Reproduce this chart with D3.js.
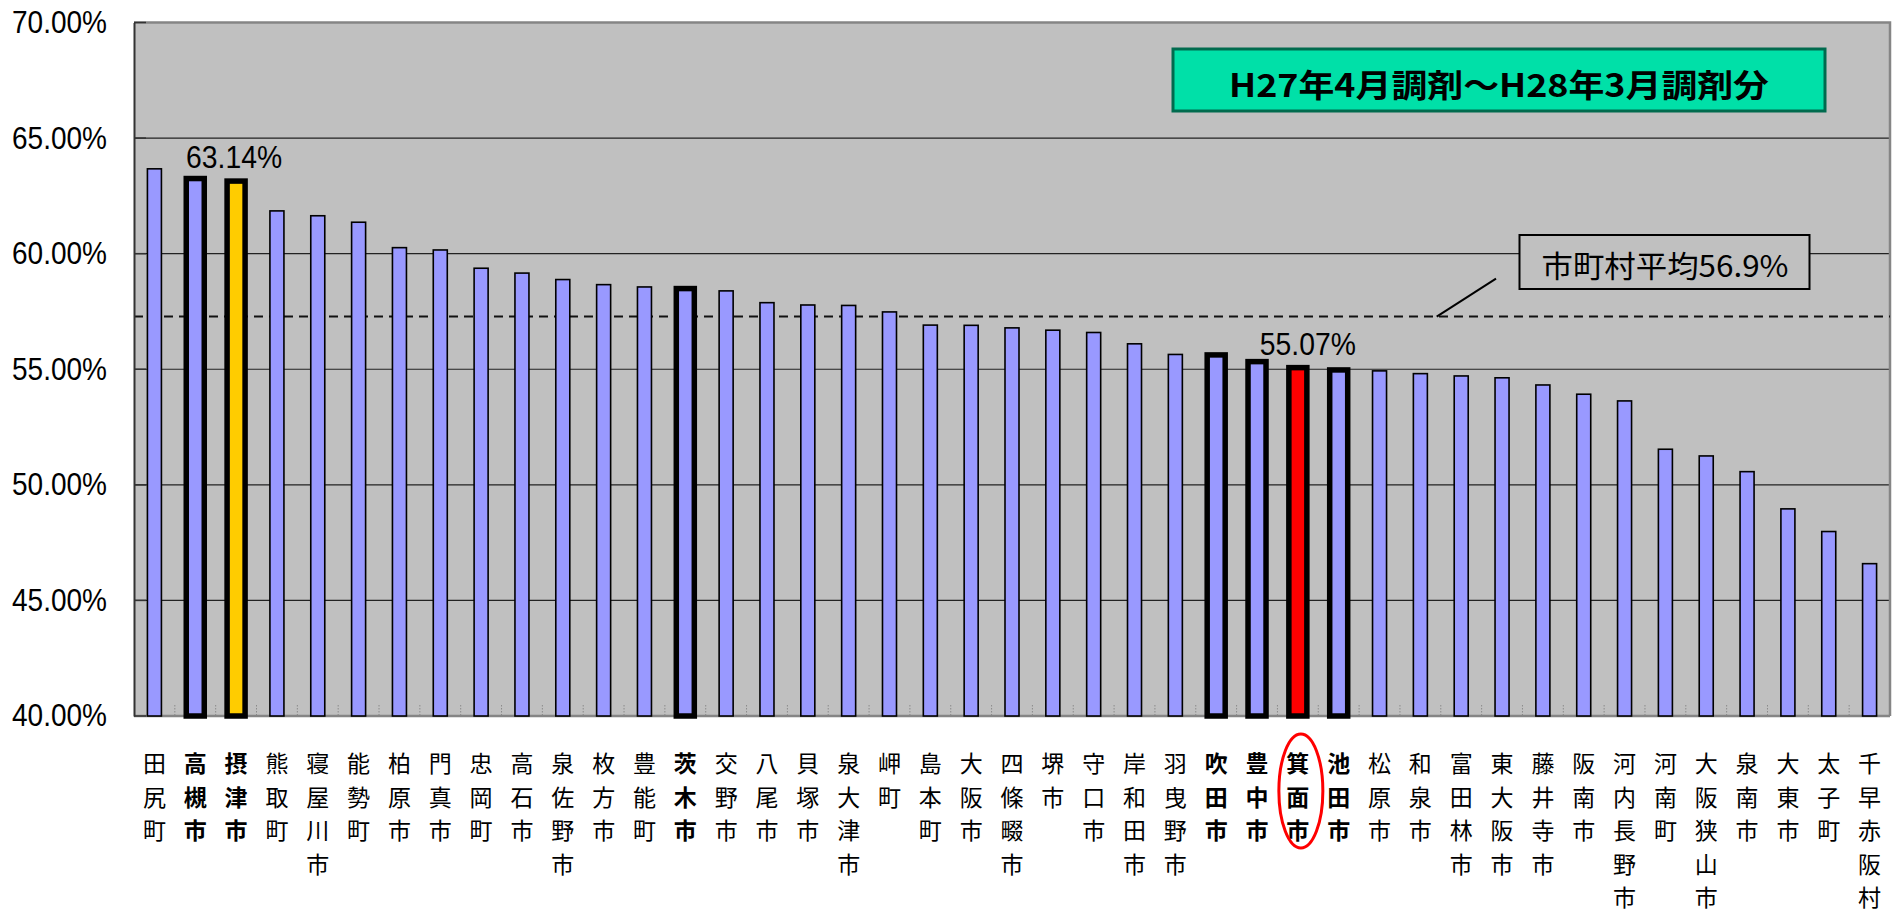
<!DOCTYPE html>
<html>
<head>
<meta charset="utf-8">
<script src="https://cdn.jsdelivr.net/npm/d3@7"></script>
<style>
  html, body { margin: 0; padding: 0; background: #fff; }
  svg { display: block; }
</style>
</head>
<body>
<svg id="chart" width="1903" height="913"></svg>
<script>
// ---------- data ----------
const categories = ["田尻町","高槻市","摂津市","熊取町","寝屋川市","能勢町","柏原市","門真市","忠岡町","高石市",
  "泉佐野市","枚方市","豊能町","茨木市","交野市","八尾市","貝塚市","泉大津市","岬町","島本町",
  "大阪市","四條畷市","堺市","守口市","岸和田市","羽曳野市","吹田市","豊中市","箕面市","池田市",
  "松原市","和泉市","富田林市","東大阪市","藤井寺市","阪南市","河内長野市","河南町","大阪狭山市","泉南市",
  "大東市","太子町","千早赤阪村"];
const values = [63.67,63.25,63.14,61.85,61.64,61.36,60.26,60.16,59.37,59.16,
  58.88,58.66,58.56,58.49,58.39,57.88,57.78,57.76,57.48,56.91,
  56.90,56.79,56.69,56.59,56.10,55.64,55.62,55.33,55.07,54.97,
  54.93,54.81,54.71,54.63,54.32,53.92,53.63,51.54,51.25,50.57,
  48.96,47.98,46.59];
const highlighted = ["高槻市","摂津市","茨木市","吹田市","豊中市","箕面市","池田市"];
const specialFill = {"摂津市": "#FFCC00", "箕面市": "#FF0000"};
const dataLabels = {"摂津市": "63.14%", "箕面市": "55.07%"};
const yTicks = [40,45,50,55,60,65,70];
const yDomain = [40,70];
const averageLine = 57.28;
const averageText = "市町村平均56.9%";
const titleText = "H27年4月調剤～H28年3月調剤分";
const circled = "箕面市";

// ---------- layout ----------
const svg = d3.select("#chart");
const L = 134, R = 1890, T = 22.5, B = 716;
const n = categories.length;
const y = d3.scaleLinear().domain(yDomain).range([B, T]);
const pad = 0.657;
const x = d3.scaleBand().domain(categories).range([L, R]).paddingInner(pad).paddingOuter(pad/2);
const bw = x.bandwidth();
const step = x.step();

// plot background
svg.append("rect").attr("x", L).attr("y", T).attr("width", R - L).attr("height", B - T)
  .attr("fill", "#C0C0C0");

// gridlines
svg.append("g").selectAll("line").data(yTicks.filter(t => t > yDomain[0] && t < yDomain[1])).join("line")
  .attr("x1", L).attr("x2", R).attr("y1", d => y(d)).attr("y2", d => y(d))
  .attr("stroke", "#222").attr("stroke-width", 1.2);

// plot border (top/right gray)
svg.append("path").attr("d", `M${L},${T} H${R} V${B}`).attr("fill", "none")
  .attr("stroke", "#858585").attr("stroke-width", 2.5);

// dotted category ticks
svg.append("g").selectAll("line").data(d3.range(1, n)).join("line")
  .attr("x1", i => L + i * step).attr("x2", i => L + i * step)
  .attr("y1", B - 11).attr("y2", B)
  .attr("stroke", "#8a8a8a").attr("stroke-width", 1).attr("stroke-dasharray", "1.5,1.5");

// bottom axis line
svg.append("line").attr("x1", L).attr("x2", R).attr("y1", B).attr("y2", B)
  .attr("stroke", "#858585").attr("stroke-width", 2.5);

// average dashed line
svg.append("line").attr("x1", L).attr("x2", R).attr("y1", y(averageLine)).attr("y2", y(averageLine))
  .attr("stroke", "#111").attr("stroke-width", 2).attr("stroke-dasharray", "9,6");

// bars
const rows = categories.map((c, i) => ({c, v: values[i], hl: highlighted.includes(c)}));
svg.append("g").selectAll("rect").data(rows).join("rect")
  .attr("x", d => d.hl ? x(d.c) - 2 : x(d.c))
  .attr("width", d => d.hl ? bw + 4 : bw)
  .attr("y", d => y(d.v))
  .attr("height", d => y(yDomain[0]) - y(d.v))
  .attr("fill", d => specialFill[d.c] || "#9999FF")
  .attr("stroke", "#000")
  .attr("stroke-width", d => d.hl ? 5.5 : 1.6);

// left axis
const yAxis = d3.axisLeft(y).tickValues(yTicks).tickSize(0).tickPadding(27)
  .tickFormat(d => d3.format(".2f")(d) + "%");
const ga = svg.append("g").attr("transform", `translate(${L},0)`).call(yAxis);
ga.select(".domain").attr("stroke", "#333").attr("stroke-width", 2);
ga.selectAll("text")
  .attr("font-family", "'Liberation Sans', Arial, sans-serif")
  .attr("font-size", 31).attr("fill", "#000")
  .attr("textLength", 95).attr("lengthAdjust", "spacingAndGlyphs");
// inner tick marks
svg.append("g").selectAll("line").data(yTicks).join("line")
  .attr("x1", L).attr("x2", L + 12).attr("y1", d => y(d)).attr("y2", d => y(d))
  .attr("stroke", "#333").attr("stroke-width", 1.5);

// data labels
svg.append("g").selectAll("text").data(rows.filter(d => dataLabels[d.c])).join("text")
  .attr("x", d => x(d.c) + bw / 2 + (d.c === "箕面市" ? 10 : -2))
  .attr("y", d => y(d.v) - 13)
  .attr("text-anchor", "middle")
  .attr("font-family", "'Liberation Sans', Arial, sans-serif")
  .attr("font-size", 31).attr("fill", "#000")
  .attr("textLength", 96).attr("lengthAdjust", "spacingAndGlyphs")
  .text(d => dataLabels[d.c]);

// x labels (vertical)
const lab = svg.append("g").selectAll("text").data(rows).join("text")
  .attr("font-family", "'Noto Sans CJK JP', sans-serif")
  .attr("font-size", 23)
  .attr("font-weight", d => d.hl ? 700 : 400)
  .attr("fill", "#000")
  .attr("text-anchor", "middle");
lab.each(function(d) {
  const t = d3.select(this);
  Array.from(d.c).forEach((ch, k) => {
    t.append("tspan").attr("x", x(d.c) + bw / 2).attr("y", 762 + k * 33.5)
      .attr("dominant-baseline", "central").text(ch);
  });
});

// red ellipse around circled label
svg.append("ellipse")
  .attr("cx", x(circled) + bw / 2 + 3).attr("cy", 791)
  .attr("rx", 22).attr("ry", 57)
  .attr("fill", "none").attr("stroke", "#FF0000").attr("stroke-width", 3);

// title box
svg.append("rect").attr("x", 1173).attr("y", 49).attr("width", 652).attr("height", 62)
  .attr("fill", "#00E0A8").attr("stroke", "#006B4E").attr("stroke-width", 3);
svg.append("text").attr("x", 1499).attr("y", 83)
  .attr("text-anchor", "middle").attr("dominant-baseline", "central")
  .attr("font-family", "'Noto Sans CJK JP', sans-serif").attr("font-weight", 700)
  .attr("font-size", 32).attr("fill", "#000")
  .attr("textLength", 540).attr("lengthAdjust", "spacingAndGlyphs")
  .text(titleText);

// average annotation
svg.append("line").attr("x1", 1496).attr("y1", 278.7).attr("x2", 1436.7).attr("y2", y(averageLine))
  .attr("stroke", "#000").attr("stroke-width", 2);
svg.append("rect").attr("x", 1519.5).attr("y", 235).attr("width", 290).attr("height", 54)
  .attr("fill", "#C0C0C0").attr("stroke", "#000").attr("stroke-width", 2);
svg.append("text").attr("x", 1665).attr("y", 263.5)
  .attr("text-anchor", "middle").attr("dominant-baseline", "central")
  .attr("font-family", "'Noto Sans CJK JP', sans-serif")
  .attr("font-size", 30).attr("fill", "#000")
  .attr("textLength", 247).attr("lengthAdjust", "spacingAndGlyphs")
  .text(averageText);
</script>
</body>
</html>
